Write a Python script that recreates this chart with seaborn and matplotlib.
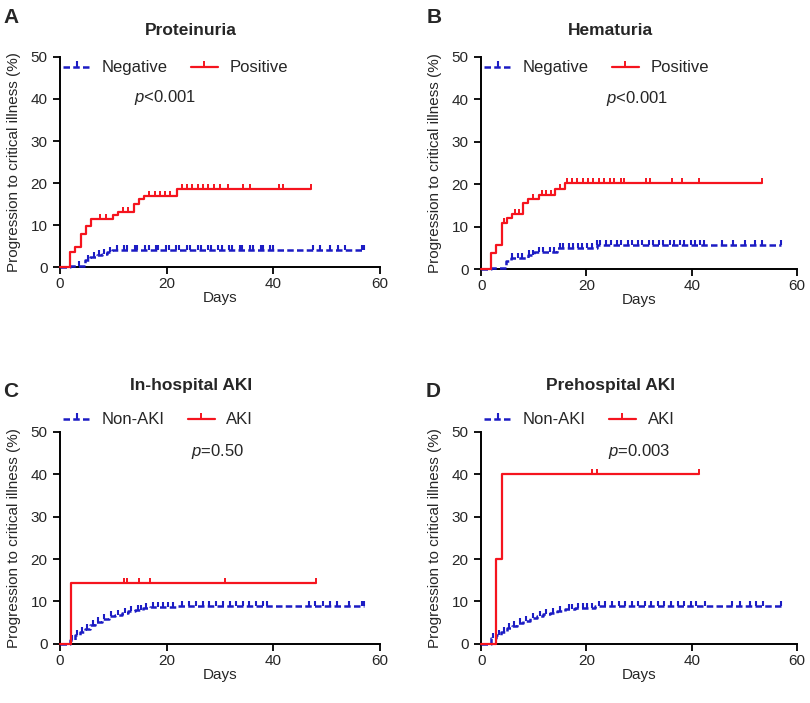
import numpy as np
import pandas as pd
import seaborn as sns
import matplotlib
matplotlib.use("Agg")
import matplotlib.pyplot as plt
from matplotlib.lines import Line2D

# ---- data ----
# A: Proteinuria
a_pos_t = [0, 1.9, 2.9, 3.9, 4.9, 5.8, 10.0, 10.9, 13.9, 14.8, 15.8, 21.9, 47.0]
a_pos_v = [0, 3.6, 4.7, 8.0, 9.8, 11.5, 12.3, 13.1, 15.0, 16.1, 16.9, 18.5, 18.5]
a_pos_cens = [7.5, 8.7, 11.9, 12.8, 16.7, 17.8, 18.75, 19.7, 20.6, 22.8, 23.8, 24.8, 25.8,
              26.8, 27.8, 28.9, 30.0, 31.5, 34.4, 35.6, 41.1, 41.9, 47.0]
a_neg_t = [0, 1.9, 4.7, 5.6, 6.9, 7.8, 8.8, 9.8, 57.0]
a_neg_v = [0, 0.3, 1.7, 2.3, 2.8, 3.2, 3.6, 4.0, 4.0]
a_neg_cens = [3.5, 5.2, 6.3, 7.3, 8.3, 9.3, 10.6, 12.0, 12.6, 14.0, 14.5, 15.9, 16.6, 18.0,
              18.4, 19.8, 20.4, 21.8, 22.4, 23.8, 24.4, 25.8, 26.4, 27.8, 28.3, 29.7, 30.3,
              31.7, 32.3, 33.7, 34.2, 35.6, 36.2, 37.6, 38.1, 39.4, 40.0, 47.4, 48.75, 50.6,
              52.1, 53.4, 56.6, 57.0]

# B: Hematuria
b_pos_t = [0, 1.8, 2.8, 3.9, 4.9, 5.8, 7.9, 8.9, 10.9, 14.0, 16.0, 53.3]
b_pos_v = [0, 3.9, 5.7, 11.0, 12.0, 13.0, 15.6, 16.6, 17.6, 18.9, 20.4, 20.4]
b_pos_cens = [4.4, 6.5, 7.2, 9.8, 11.6, 12.4, 13.2, 14.9, 16.3, 17.2, 18.2, 19.3, 20.3, 21.3,
              22.3, 23.3, 24.4, 25.3, 26.5, 27.2, 31.4, 32.0, 36.2, 38.1, 41.3, 53.3]
b_neg_t = [0, 1.9, 4.7, 5.7, 8.9, 10.0, 14.4, 22.0, 57.0]
b_neg_v = [0, 0.4, 2.0, 2.7, 3.4, 4.0, 4.9, 5.7, 5.7]
b_neg_cens = [5.8, 7.0, 7.8, 9.0, 9.8, 11.0, 11.8, 13.0, 13.8, 15.0, 15.6, 16.6, 17.4, 18.4,
              19.2, 20.2, 21.0, 22.0, 22.6, 23.8, 24.6, 25.8, 26.6, 27.8, 28.6, 29.8, 30.6,
              31.8, 32.6, 33.8, 34.6, 35.8, 36.6, 37.8, 38.6, 39.8, 40.6, 41.6, 42.4, 45.7,
              47.9, 50.1, 52.0, 53.3, 57.0]

# C: In-hospital AKI
c_pos_t = [0, 2.0, 48.0]
c_pos_v = [0, 14.3, 14.3]
c_pos_cens = [12.0, 12.6, 14.9, 16.9, 30.9, 48.0]
c_neg_t = [0, 1.9, 2.8, 3.75, 4.7, 5.6, 6.6, 7.8, 9.1, 10.3, 11.6, 12.8, 14.1, 15.6, 16.9, 22.2, 57.0]
c_neg_v = [0, 1.0, 2.0, 2.8, 3.5, 4.4, 5.2, 5.8, 6.5, 6.9, 7.4, 7.7, 8.0, 8.4, 8.7, 9.0, 9.0]
c_neg_cens = [2.3, 3.2, 4.2, 5.1, 6.1, 7.1, 8.3, 9.6, 10.8, 12.1, 13.4, 14.6, 15.2, 16.1, 17.5,
              18.4, 19.3, 20.2, 21.1, 22.8, 24.2, 25.5, 26.8, 28.0, 29.3, 30.5, 31.8, 33.0,
              34.3, 35.5, 36.8, 38.0, 38.75, 46.6, 47.8, 49.4, 50.6, 51.9, 54.1, 56.6, 57.0]

# D: Prehospital AKI
d_pos_t = [0, 2.85, 3.9, 41.4]
d_pos_v = [0, 20.0, 40.0, 40.0]
d_pos_cens = [21.0, 22.0, 41.4]
d_neg_t = [0, 1.9, 2.8, 3.8, 4.9, 5.8, 6.8, 8.0, 9.3, 10.6, 11.8, 13.1, 14.4, 16.0, 17.8, 21.6, 57.0]
d_neg_v = [0, 1.3, 2.1, 2.9, 3.7, 4.2, 4.9, 5.5, 6.0, 6.6, 7.1, 7.4, 7.8, 8.2, 8.4, 9.0, 9.0]
d_neg_cens = [2.3, 3.3, 4.3, 5.3, 6.3, 7.4, 8.6, 9.9, 11.1, 12.4, 13.7, 15.0, 16.6, 17.2, 18.4,
              19.3, 20.2, 21.0, 22.3, 23.6, 24.8, 26.1, 27.3, 28.6, 29.8, 31.1, 32.3, 33.6,
              34.8, 36.1, 37.3, 38.6, 39.8, 40.9, 42.5, 47.6, 49.1, 51.0, 52.3, 53.5, 57.0]

titles = ["Proteinuria", "Hematuria", "In-hospital AKI", "Prehospital AKI"]
letters = ["A", "B", "C", "D"]
legend_labels = [("Negative", "Positive"), ("Negative", "Positive"),
                 ("Non-AKI", "AKI"), ("Non-AKI", "AKI")]
p_texts = [r"$p$<0.001", r"$p$<0.001", r"$p$=0.50", r"$p$=0.003"]

panels = [
    (a_neg_t, a_neg_v, a_neg_cens, a_pos_t, a_pos_v, a_pos_cens),
    (b_neg_t, b_neg_v, b_neg_cens, b_pos_t, b_pos_v, b_pos_cens),
    (c_neg_t, c_neg_v, c_neg_cens, c_pos_t, c_pos_v, c_pos_cens),
    (d_neg_t, d_neg_v, d_neg_cens, d_pos_t, d_pos_v, d_pos_cens),
]

sns.set_style("ticks")
plt.rcParams["font.family"] = ["Liberation Sans", "DejaVu Sans"]
plt.rcParams["mathtext.fontset"] = "custom"
plt.rcParams["mathtext.it"] = "Liberation Sans:italic"
plt.rcParams["mathtext.rm"] = "Liberation Sans"

RED = "#f5141e"
BLUE = "#1c1cc4"
BLUE_DASH = (0, (2.6, 1.3))
TICK_MS = 3.4

fig = plt.figure(figsize=(8.1, 7.03), dpi=100)
positions = [
    [0.0741, 0.620, 0.395, 0.299],
    [0.594, 0.617, 0.390, 0.302],
    [0.0741, 0.084, 0.395, 0.302],
    [0.594, 0.084, 0.390, 0.302],
]
p_xy = [(19.7, 40.3), (29.6, 40.3), (29.5, 45.3), (30.0, 45.3)]
legend_y = [0.948, 0.948, 1.055, 1.055]
title_y = [1.125, 1.125, 1.215, 1.215]
letter_xy = [(0.004, 0.988), (0.527, 0.988), (0.004, 0.457), (0.525, 0.457)]


def censor_values(t, v, cens):
    idx = np.searchsorted(t, cens, side="right") - 1
    return np.asarray(v)[idx]


for i, pos in enumerate(positions):
    ax = fig.add_axes(pos)
    neg_t, neg_v, neg_c, pos_t, pos_v, pos_c = panels[i]
    neg_df = pd.DataFrame({"Days": neg_t, "pct": neg_v})
    pos_df = pd.DataFrame({"Days": pos_t, "pct": pos_v})

    sns.lineplot(data=neg_df, x="Days", y="pct", ax=ax, estimator=None, drawstyle="steps-post",
                 color=BLUE, lw=1.8, linestyle=BLUE_DASH, clip_on=False, zorder=3)
    sns.lineplot(data=pos_df, x="Days", y="pct", ax=ax, estimator=None, drawstyle="steps-post",
                 color=RED, lw=1.6, clip_on=False, zorder=4)
    ax.plot(neg_c, censor_values(neg_t, neg_v, neg_c), ls="none", marker=2, ms=TICK_MS,
            mew=1.5, color=BLUE, clip_on=False, zorder=3)
    ax.plot(pos_c, censor_values(pos_t, pos_v, pos_c), ls="none", marker=2, ms=TICK_MS,
            mew=1.4, color=RED, clip_on=False, zorder=4)

    ax.set_xlim(0, 60)
    ax.set_ylim(0, 50)
    ax.set_xticks([0, 20, 40, 60])
    ax.set_yticks([0, 10, 20, 30, 40, 50])
    ax.set_xlabel("Days", fontsize=11, labelpad=0)
    ax.set_ylabel("Progression to critical illness (%)", fontsize=11, labelpad=7)
    ax.tick_params(labelsize=11, length=5, width=1.3, color="black", pad=4)
    ax.tick_params(axis="x", pad=2)
    sns.despine(ax=ax)
    for sp in ["left", "bottom"]:
        ax.spines[sp].set_linewidth(1.4)
        ax.spines[sp].set_color("black")

    ax.text(p_xy[i][0], p_xy[i][1], p_texts[i], fontsize=12, ha="center", va="center")
    ax.text(0.41, title_y[i], titles[i], transform=ax.transAxes, fontsize=12.5,
            fontweight="bold", ha="center", va="center")

    handles = [
        Line2D([], [], color=BLUE, lw=1.8, linestyle=BLUE_DASH, marker=2, ms=TICK_MS + 0.6, mew=1.5),
        Line2D([], [], color=RED, lw=1.6, marker=2, ms=TICK_MS + 0.6, mew=1.4),
    ]
    ax.legend(handles, legend_labels[i], loc="center left", bbox_to_anchor=(0.0, legend_y[i]),
              ncol=2, frameon=False, fontsize=12, handlelength=1.6, handletextpad=0.7,
              columnspacing=1.4, borderpad=0, borderaxespad=0.2, numpoints=1)

    fig.text(letter_xy[i][0], letter_xy[i][1], letters[i], fontsize=15, fontweight="bold",
             ha="left", va="top")

fig.savefig("out.png", dpi=100)
